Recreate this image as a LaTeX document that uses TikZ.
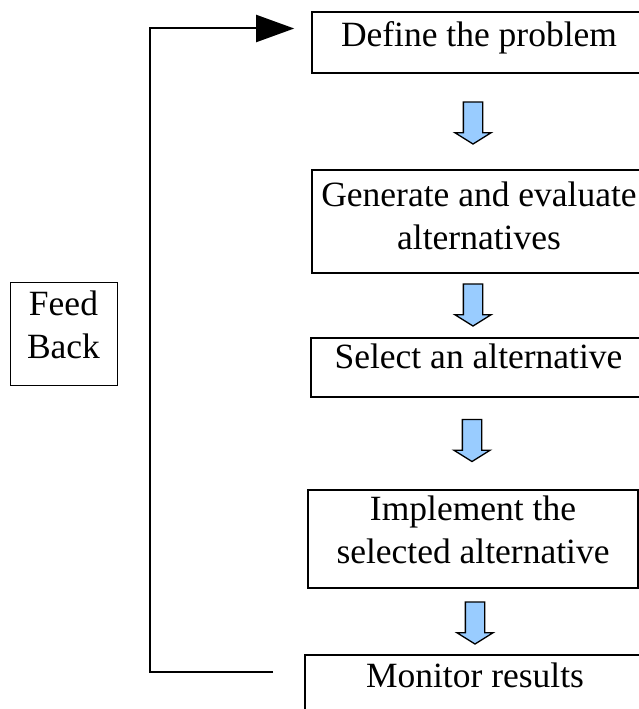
\documentclass[tikz,border=0pt]{standalone}
\usepackage{fontspec}
\setmainfont{Liberation Serif}
\usetikzlibrary{arrows.meta,shapes.arrows}
\definecolor{arrowblue}{RGB}{153,204,255}
\tikzset{
  stage/.style={draw,line width=1.6pt,inner sep=0pt,align=center,
    font=\fontsize{35.5}{42.5}\selectfont},
  sink/.style={execute at end node={\rule[-#1]{0pt}{#1}}},
  down/.style={single arrow,draw,line width=1.3pt,fill=arrowblue,inner sep=9pt,
    shape border rotate=270,minimum height=42pt,minimum width=35pt,
    single arrow head extend=8.5pt,single arrow tip angle=116}
}
\begin{document}
\begin{tikzpicture}[x=1pt,y=-1pt]
\clip (0,0) rectangle (639,709);
% the five steps
\node[stage,minimum width=334pt,minimum height=61pt,sink=16.5pt] (define) at (479,42.5) {Define the problem};
\node[stage,minimum width=334pt,minimum height=103pt,sink=11.5pt] (generate) at (479,221.5) {Generate and evaluate\\alternatives};
\node[stage,minimum width=335pt,minimum height=59pt,sink=22pt] (select) at (478.5,367.5) {Select an alternative};
\node[stage,minimum width=330pt,minimum height=98pt,sink=18.5pt] (implement) at (473,539) {Implement the\\selected alternative};
\node[stage,minimum width=340pt,minimum height=61pt,sink=21.5pt] (monitor) at (475,685.5) {Monitor results};
% block arrows between steps
\node[down] (a1) at (473,120) {};
\node[down] (a2) at (473,302) {};
\node[down] (a3) at (472,437.5) {};
\node[down] (a4) at (475,620) {};
% feedback loop
\node[stage,line width=1pt,minimum width=107pt,minimum height=103pt,sink=17.5pt] (feedback) at (63.5,333.5) {Feed\\Back};
\draw[line width=2pt,-{Triangle[length=38pt,width=27pt]}] ([xshift=-31pt,yshift=13.8pt]monitor.west) -- ++(-123.3,0) |- ([xshift=-17pt,yshift=14pt]define.west);
\end{tikzpicture}
\end{document}
